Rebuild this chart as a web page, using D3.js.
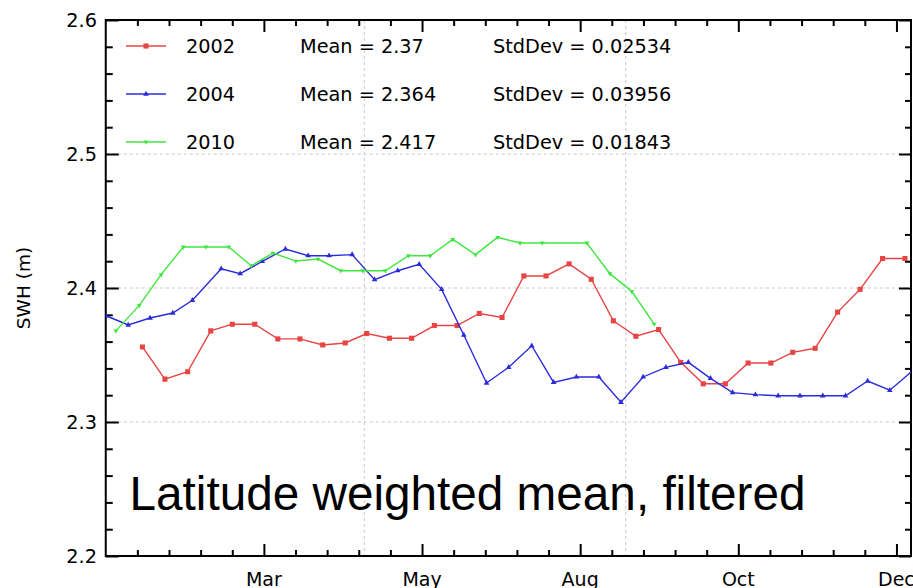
<!DOCTYPE html>
<html>
<head>
<meta charset="utf-8">
<script src="https://cdn.jsdelivr.net/npm/d3@7"></script>
<style>
  body { margin: 0; background: #fff; }
  svg { display: block; }
  .tick text { font-family: "DejaVu Sans", sans-serif; }
</style>
</head>
<body>
<div id="chart"></div>
<script>
let width = 913;
let height = 588;
let margin = ({top: 20, right: 2, bottom: 32, left: 106});

// x is in axis units (major tick every 50)
let monthTicks = [50, 100, 150, 200, 250];
let monthLabels = ["Mar", "May", "Aug", "Oct", "Dec"];
let xGrid = [81.75, 164.4];
let yMajor = [2.2, 2.3, 2.4, 2.5, 2.6];
let yGrid = [2.3, 2.4, 2.5];

let x2002 = [11.6, 18.7, 25.9, 33.2, 40.0, 47.1, 54.4, 61.4, 68.6, 75.7, 82.5, 89.7,
    96.7, 103.9, 111.1, 118.1, 125.3, 132.2, 139.2, 146.5, 153.5, 160.5, 167.6, 174.8,
    181.8, 188.9, 195.9, 203.1, 210.3, 217.2, 224.3, 231.4, 238.5, 245.6, 252.7];
let y2002 = [2.356, 2.332, 2.3375, 2.368, 2.373, 2.373, 2.362, 2.362, 2.3575, 2.359, 2.366, 2.3625,
    2.3625, 2.372, 2.372, 2.381, 2.378, 2.409, 2.409, 2.418, 2.4065, 2.3755, 2.364, 2.369,
    2.3445, 2.3285, 2.3285, 2.344, 2.344, 2.352, 2.355, 2.382, 2.399, 2.422, 2.422];

let x2004 = [0.1, 7.1, 14.0, 21.2, 27.4, 36.5, 42.5, 49.5, 56.8, 64.0, 70.6, 77.9, 85.0,
    92.3, 99.1, 106.2, 113.2, 120.4, 127.4, 134.7, 141.6, 148.8, 155.9, 162.9, 169.9,
    177.1, 184.2, 191.2, 198.2, 205.4, 212.6, 219.5, 226.7, 233.9, 240.9, 247.9, 255.0];
let y2004 = [2.3793, 2.3724, 2.3776, 2.3813, 2.3908, 2.4144, 2.4107, 2.4199, 2.4291, 2.4241, 2.4241, 2.4249, 2.4062,
    2.4129, 2.4177, 2.399, 2.3649, 2.3291, 2.3408, 2.3569, 2.3296, 2.3336, 2.3336, 2.3147, 2.3336,
    2.3408, 2.3445, 2.3326, 2.3219, 2.3204, 2.3196, 2.3196, 2.3196, 2.3196, 2.3306, 2.3237, 2.338];

let x2010 = [3.2, 10.6, 17.5, 24.5, 31.7, 38.9, 46.0, 52.9, 60.1, 67.1, 74.3, 81.3, 88.4,
    95.7, 102.6, 109.7, 116.9, 123.9, 131.0, 138.0, 152.1, 159.4, 166.3, 173.4];
let y2010 = [2.368, 2.387, 2.410, 2.4306, 2.4306, 2.4306, 2.4166, 2.4261, 2.4201, 2.4216, 2.4129, 2.4129, 2.4129,
    2.4241, 2.4241, 2.4363, 2.4249, 2.4378, 2.4336, 2.4336, 2.4336, 2.4107, 2.3975, 2.3731];

let years = ["2002", "2004", "2010"];
let means = ["2.37", "2.364", "2.417"];
let stdDevs = ["0.02534", "0.03956", "0.01843"];

let series = [
    {name: years[0], xs: x2002, ys: y2002, color: "#e84444", marker: d3.symbolSquare, size: 26},
    {name: years[1], xs: x2004, ys: y2004, color: "#2b2bdb", marker: d3.symbolTriangle, size: 14},
    {name: years[2], xs: x2010, ys: y2010, color: "#3fe63f", marker: d3.symbolTriangle, size: 10, rot: 180}
];

let svg = d3.select("#chart").append("svg")
    .attr("width", width)
    .attr("height", height);

let xScale = d3.scaleLinear()
    .domain([0, 254.6])
    .range([105.75, width - margin.right]);

let yScale = d3.scaleLinear()
    .domain([2.2, 2.6])
    .range([height - margin.bottom, margin.top]);

let x0 = xScale.range()[0], x1 = xScale.range()[1];
let y0 = yScale.range()[1], y1 = yScale.range()[0];

svg.append("clipPath").attr("id", "plotClip")
    .append("rect")
    .attr("x", x0).attr("y", y0)
    .attr("width", x1 - x0).attr("height", y1 - y0);

// dashed grid
svg.append("g").selectAll("line").data(yGrid).join("line")
    .attr("x1", x0).attr("x2", x1)
    .attr("y1", d => yScale(d)).attr("y2", d => yScale(d))
    .attr("stroke", "#c8c8c8").attr("stroke-width", 1).attr("stroke-dasharray", "3,3");
svg.append("g").selectAll("line").data(xGrid).join("line")
    .attr("x1", d => xScale(d)).attr("x2", d => xScale(d))
    .attr("y1", y0).attr("y2", y1)
    .attr("stroke", "#c8c8c8").attr("stroke-width", 1).attr("stroke-dasharray", "3,3");

// minor / major tick positions
let xMinor = d3.range(10, 255, 10).filter(d => monthTicks.indexOf(d) < 0);
let yMinor = d3.range(2.22, 2.6, 0.02).filter(d => Math.abs(Math.round(d * 10) - d * 10) > 0.01);

function tickAxis(axisFn, scale, values, size, transform) {
    let g = svg.append("g")
        .attr("transform", transform)
        .call(axisFn(scale).tickValues(values).tickSize(size).tickFormat(""));
    g.select(".domain").remove();
    g.selectAll("line").attr("stroke", "#000").attr("stroke-width", 2);
    return g;
}

tickAxis(d3.axisBottom, xScale, xMinor, -6, `translate(0,${y1})`);
tickAxis(d3.axisBottom, xScale, monthTicks, -12, `translate(0,${y1})`);
tickAxis(d3.axisTop, xScale, xMinor, -6, `translate(0,${y0})`);
tickAxis(d3.axisTop, xScale, monthTicks, -12, `translate(0,${y0})`);
tickAxis(d3.axisLeft, yScale, yMinor, -7, `translate(${x0},0)`);
tickAxis(d3.axisLeft, yScale, yMajor, -13, `translate(${x0},0)`);
tickAxis(d3.axisRight, yScale, yMinor, -6, `translate(${x1},0)`);
tickAxis(d3.axisRight, yScale, yMajor, -12, `translate(${x1},0)`);

// frame
svg.append("rect")
    .attr("x", x0).attr("y", y0)
    .attr("width", x1 - x0).attr("height", y1 - y0)
    .attr("fill", "none").attr("stroke", "#000").attr("stroke-width", 2);

// tick labels
svg.append("g").selectAll("text").data(yMajor).join("text")
    .attr("x", 97)
    .attr("y", d => yScale(d) + 7)
    .attr("text-anchor", "end")
    .attr("font-family", "DejaVu Sans, sans-serif")
    .attr("font-size", 19.3)
    .text(d => d.toFixed(1));

svg.append("g").selectAll("text").data(monthTicks).join("text")
    .attr("x", d => xScale(d))
    .attr("y", y1 + 30)
    .attr("text-anchor", "middle")
    .attr("font-family", "DejaVu Sans, sans-serif")
    .attr("font-size", 19)
    .text((d, i) => monthLabels[i]);

svg.append("text")
    .attr("transform", `translate(30,288) rotate(-90)`)
    .attr("text-anchor", "middle")
    .attr("font-family", "DejaVu Sans, sans-serif")
    .attr("font-size", 18.5)
    .text("SWH (m)");

// data lines
let plot = svg.append("g").attr("clip-path", "url(#plotClip)");
let line = d3.line().x(d => xScale(d[0])).y(d => yScale(d[1]));

series.forEach(function(s) {
    let pts = s.xs.map((v, i) => [v, s.ys[i]]);
    plot.append("path")
        .datum(pts)
        .attr("d", line)
        .attr("fill", "none")
        .attr("stroke", s.color)
        .attr("stroke-width", 1.4);
    plot.selectAll(null).data(pts).join("path")
        .attr("d", d3.symbol().type(s.marker).size(s.size))
        .attr("transform", d => `translate(${xScale(d[0])},${yScale(d[1])}) rotate(${s.rot || 0})`)
        .attr("fill", s.color);
});

// legend
let legendRows = [46, 94, 142];
series.forEach(function(s, i) {
    let ly = legendRows[i];
    svg.append("line")
        .attr("x1", 126).attr("x2", 166)
        .attr("y1", ly).attr("y2", ly)
        .attr("stroke", s.color).attr("stroke-width", 1.4);
    svg.append("path")
        .attr("d", d3.symbol().type(s.marker).size(s.size))
        .attr("transform", `translate(146,${ly}) rotate(${s.rot || 0})`)
        .attr("fill", s.color);
    let t = svg.append("g")
        .attr("font-family", "DejaVu Sans, sans-serif")
        .attr("font-size", 19.3);
    t.append("text").attr("x", 186).attr("y", ly + 7.3).text(s.name);
    t.append("text").attr("x", 300).attr("y", ly + 7.3).text("Mean = " + means[i]);
    t.append("text").attr("x", 493).attr("y", ly + 7.3).text("StdDev = " + stdDevs[i]);
});

// annotation
svg.append("text")
    .attr("x", 129.5)
    .attr("y", 510)
    .attr("font-family", "Liberation Sans, Arial, sans-serif")
    .attr("font-size", 47.7)
    .text("Latitude weighted mean, filtered");
</script>
</body>
</html>
